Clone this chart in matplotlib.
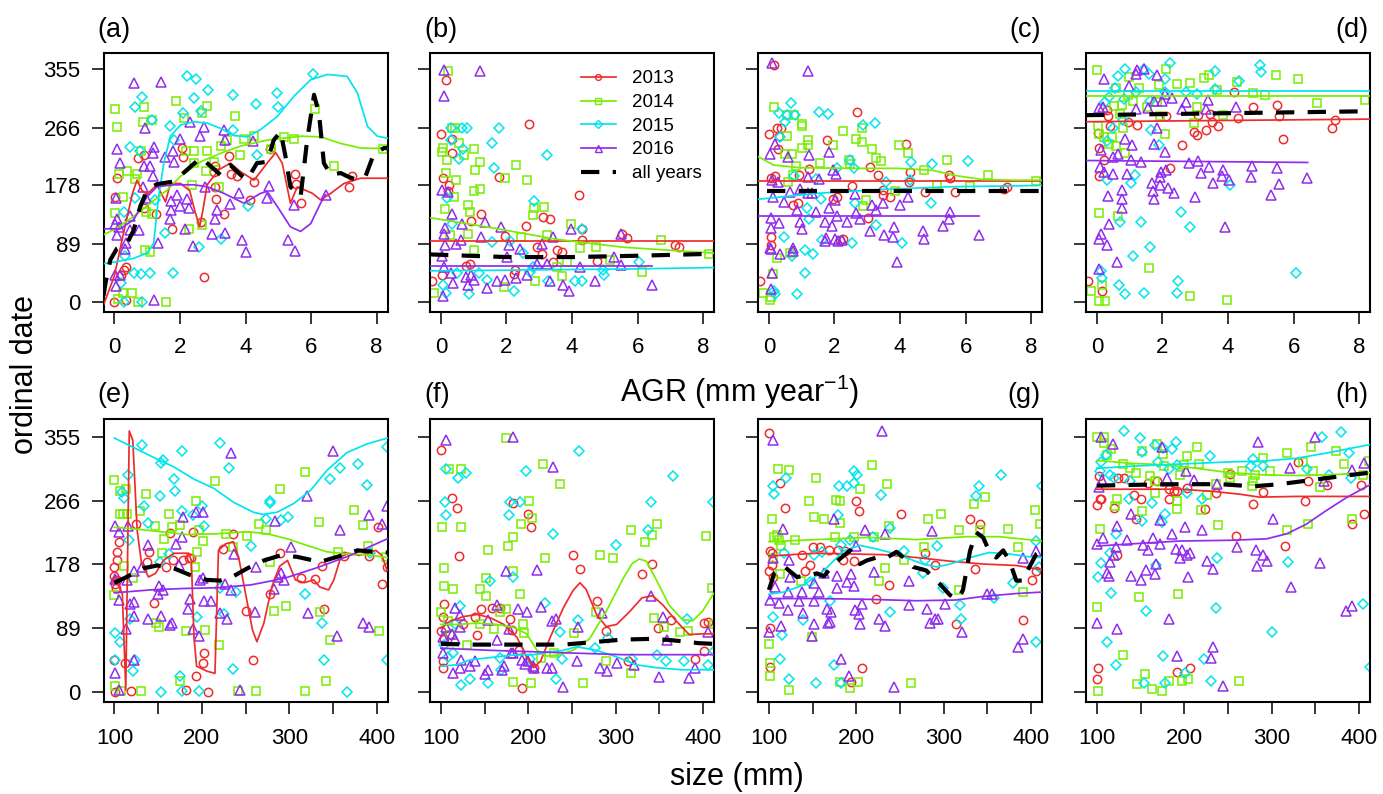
import matplotlib
matplotlib.use('Agg')
import matplotlib.pyplot as plt
from matplotlib.lines import Line2D

plt.rcParams['font.family'] = ['Liberation Sans', 'DejaVu Sans']
plt.rcParams['mathtext.fontset'] = 'custom'
plt.rcParams['mathtext.rm'] = 'Liberation Sans'
plt.rcParams['mathtext.it'] = 'Liberation Sans'

YEARS = ['2013', '2014', '2015', '2016']
COLORS = ['#EE2C2C', '#76EE00', '#00E5EE', '#912CEE']
MARKERS = ['o', 's', 'D', '^']
MSIZES = [6.0, 5.3, 5.2, 7.2]
YTICKS = [0, 89, 178, 266, 355]
XTICKS_AGR = [0, 2, 4, 6, 8]
XTICKS_SIZE = [100, 150, 200, 250, 300, 350, 400]
XLABELS_SIZE = ['100', '', '200', '', '300', '', '400']
PANEL_LABELS = ['(a)', '(b)', '(c)', '(d)', '(e)', '(f)', '(g)', '(h)']

# ---------------- panel (a): AGR, top-left ----------------
A13 = [(0.0,0),(0.37,4),(0.08,190),(0.03,161),(0.71,220),(0.9,224),(0.28,49),(0.36,54),(0.21,42),(1.28,134),(0.9,144),(2.09,222),(1.76,112),(2.06,235),(2.73,38),(2.63,122),(3.06,207),(3.04,199),(3.11,157),(3.34,134),(3.49,223),(3.56,196),(3.73,192),(4.27,183),(4.15,156),(4.76,233),(5.5,196),(5.53,180),(5.68,151),(7.16,175),(7.26,193),(3.08,175)]
A14 = [(0.01,295),(0.07,267),(0.03,136),(0.15,196),(0.26,160),(0.39,200),(0.64,188),(0.69,196),(0.8,231),(0.92,297),(0.88,275),(0.93,80),(1.08,76),(1.15,277),(1.15,134),(0.96,138),(1.88,306),(2.11,280),(2.19,230),(2.29,111),(2.42,212),(2.44,231),(2.66,118),(2.68,289),(2.84,299),(2.84,230),(2.8,200),(3.24,238),(3.44,247),(3.69,284),(3.83,224),(3.95,248),(4.25,254),(4.78,234),(5.16,252),(5.48,248),(6.13,294),(6.7,208),(8.2,234),(1.57,1),(0.71,1),(0.55,15),(0.11,5),(0.27,14),(3.03,214),(3.18,175),(2.38,179)]
A15 = [(2.22,344),(2.49,340),(2.85,324),(2.42,311),(0.84,312),(0.62,298),(2.1,289),(3.61,316),(4.33,302),(4.95,319),(4.99,297),(6.07,347),(1.69,269),(0.47,236),(0.79,231),(1.16,277),(3.61,263),(4.34,225),(4.07,146),(2.58,85),(3.24,96),(1.54,105),(1.78,44),(1.1,44),(0.8,43),(0.59,44),(0.21,29),(0.31,0),(0.84,0),(0.34,70),(0.31,138),(0.64,159),(1.25,156),(2.63,291),(1.81,247)]
A16 = [(0.6,334),(1.42,335),(0.08,233),(0.16,212),(0.04,159),(0.95,265),(1.22,237),(1.18,227),(0.9,207),(1.1,207),(1.18,192),(0.86,176),(0.98,159),(0.08,127),(0.03,120),(0.13,115),(0.49,131),(0.49,110),(0.76,110),(0.36,90),(0.32,82),(0.08,103),(0.18,42),(0.03,42),(0.06,25),(1.2,4),(1.32,90),(1.55,222),(1.8,231),(1.81,214),(2.0,249),(1.72,154),(1.72,141),(1.91,163),(2.01,147),(2.22,158),(2.27,143),(2.3,274),(2.61,254),(2.73,267),(2.78,175),(3.08,127),(3.13,141),(2.98,104),(3.39,105),(3.34,263),(3.39,247),(3.52,150),(3.9,95),(4.03,77),(3.81,167),(4.24,246),(4.71,177),(4.66,159),(5.29,95),(5.51,78),(5.48,149),(6.44,164),(2.4,86),(2.15,112),(1.69,127)]
LA13 = [(-0.33,-4),(0.0,40),(0.3,110),(0.55,165),(0.69,186),(0.85,170),(1.0,165),(1.3,179),(1.56,153),(1.71,181),(2.02,181),(2.3,170),(2.45,140),(2.6,115),(2.7,140),(2.83,179),(3.19,202),(3.54,212),(3.85,199),(4.26,186),(4.66,212),(4.92,228),(5.12,212),(5.37,151),(5.58,176),(6.04,166),(6.29,156),(6.6,166),(7.0,181),(7.51,189),(8.33,189)]
LA14 = [(-0.33,103),(0.08,113),(0.59,131),(1.1,151),(1.61,171),(2.02,192),(2.63,214),(3.24,227),(3.85,238),(4.66,247),(5.68,253),(6.29,252),(6.9,242),(7.51,235),(8.33,234)]
LA15 = [(-0.33,59),(0.08,62),(0.59,67),(1.0,75),(1.2,90),(1.35,161),(1.51,212),(1.71,253),(2.02,270),(2.42,275),(2.83,273),(3.24,265),(3.64,254),(4.05,252),(4.46,263),(4.97,283),(5.48,314),(5.99,339),(6.5,347),(7.1,344),(7.41,319),(7.72,268),(8.02,253),(8.33,250)]
LA16 = [(-0.33,112),(0.18,112),(0.59,126),(1.0,161),(1.3,176),(1.81,179),(2.42,179),(2.83,176),(3.34,166),(3.95,151),(4.46,166),(4.66,169),(4.97,146),(5.37,115),(5.68,108),(5.99,120),(6.29,151),(6.44,164)]
LAALL = [(-0.33,10),(-0.27,29),(-0.12,65),(0.08,82),(0.39,90),(0.59,110),(0.79,146),(1.0,171),(1.3,180),(1.81,184),(2.22,202),(2.63,220),(2.83,212),(3.24,194),(3.54,209),(3.85,194),(4.05,187),(4.35,212),(4.66,214),(4.86,247),(5.07,260),(5.22,222),(5.37,176),(5.68,161),(5.88,247),(6.09,316),(6.24,288),(6.39,212),(6.6,194),(6.9,197),(7.1,192),(7.41,186),(7.66,192),(7.92,227),(8.23,235),(8.33,235)]

# ---------------- panel (b) ----------------
B13 = [(0.15,338),(0.02,257),(0.33,249),(0.33,228),(0.08,189),(0.26,178),(0.22,169),(0.91,124),(1.21,134),(1.77,191),(1.95,101),(2.7,271),(2.59,116),(3.11,130),(3.33,127),(2.93,85),(3.08,74),(3.53,79),(3.7,77),(3.43,62),(4.2,163),(4.29,112),(4.3,95),(4.76,63),(5.67,98),(5.52,104),(7.14,88),(7.26,84),(-0.28,33),(0.05,42),(0.76,56),(0.88,58),(2.22,43),(2.27,49)]
B14 = [(0.22,353),(0.35,265),(0.43,265),(0.06,235),(0.05,229),(0.2,217),(0.15,197),(0.47,187),(0.4,161),(0.13,142),(0.55,242),(0.71,224),(1.01,234),(1.18,214),(1.03,202),(1.19,173),(1.0,169),(0.84,148),(0.89,137),(0.83,104),(1.01,79),(0.28,103),(-0.2,14),(1.97,189),(2.28,209),(2.64,187),(2.8,133),(2.85,143),(3.15,145),(2.45,99),(3.23,102),(3.97,119),(4.24,83),(4.74,85),(3.86,61),(5.15,64),(6.14,47),(6.71,95),(8.17,73),(2.88,32),(3.68,40),(3.53,54),(1.92,24)]
B15 = [(0.3,265),(0.64,265),(0.81,265),(1.78,265),(0.3,247),(0.68,233),(0.56,219),(1.56,242),(3.23,225),(1.61,204),(0.18,159),(0.35,119),(2.85,154),(4.32,112),(2.1,94),(1.56,92),(2.52,75),(2.81,54),(6.05,62),(4.99,42),(4.94,50),(4.09,33),(4.32,33),(3.28,33),(0.5,44),(0.07,27),(0.86,12),(1.41,34),(2.22,17),(0.15,14),(1.16,44),(2.72,47)]
B16 = [(0.1,354),(1.19,352),(0.1,314),(0.03,171),(0.22,168),(0.33,134),(0.13,113),(0.1,104),(0.64,119),(1.21,100),(1.34,123),(1.82,114),(0.47,89),(0.61,95),(0.13,87),(0.05,70),(0.1,54),(0.08,10),(0.3,44),(0.37,30),(0.76,39),(0.91,42),(1.01,34),(0.83,27),(1.41,22),(1.7,32),(1.97,34),(2.07,87),(2.42,82),(2.02,69),(2.3,37),(2.62,42),(2.92,59),(3.1,89),(3.23,58),(3.41,100),(3.33,33),(3.73,27),(3.92,18),(3.98,111),(4.24,54),(4.71,32),(5.28,69),(5.5,57),(5.5,104),(6.43,26)]
LB13 = [(-0.33,93),(8.33,93)]
LB14 = [(-0.33,129),(1.51,114),(3.53,96),(5.55,84),(8.33,75)]
LB15 = [(-0.33,48),(2.0,49),(4.0,50),(6.0,51),(8.33,53)]
LB16 = [(-0.33,56),(6.43,56)]
LBALL = [(-0.33,73),(2.0,69),(4.0,69),(6.0,71),(8.33,74)]

# ---------------- panel (c) ----------------
C13 = [(0.15,361),(0.02,256),(0.25,265),(0.38,266),(0.31,253),(0.28,234),(2.69,290),(1.77,247),(4.17,241),(3.08,206),(3.33,194),(4.29,198),(4.27,183),(5.48,194),(5.53,189),(0.07,189),(0.2,193),(1.21,203),(0.91,194),(0.73,148),(0.88,152),(1.97,157),(2.09,161),(2.55,177),(3.03,129),(3.48,163),(3.68,161),(3.48,171),(4.76,168),(5.67,168),(7.16,172),(7.27,176),(0.07,99),(0.07,88),(-0.27,33),(2.17,95),(2.27,96)]
C14 = [(0.15,297),(0.56,285),(0.76,286),(1.01,271),(1.01,269),(0.54,253),(2.27,261),(1.97,240),(1.18,247),(1.18,240),(1.01,235),(2.65,248),(2.83,244),(2.85,266),(3.16,234),(3.26,220),(3.41,215),(3.96,240),(4.24,228),(0.5,226),(0.71,226),(1.56,212),(0.83,208),(2.44,216),(2.47,211),(4.72,202),(5.44,216),(6.69,194),(5.13,179),(6.12,177),(8.16,185),(2.86,146),(2.96,156),(3.86,170),(0.25,68),(0.13,43),(-0.17,14),(0.05,3),(0.07,8),(0.66,75),(0.74,194),(0.58,183)]
C15 = [(0.67,304),(0.3,289),(0.56,286),(0.79,286),(0.5,274),(0.35,252),(1.54,290),(1.79,287),(2.86,270),(3.23,273),(2.47,217),(2.59,205),(4.34,213),(4.99,210),(6.06,215),(4.29,187),(4.94,152),(2.09,204),(0.76,193),(1.43,188),(3.58,183),(1.16,143),(1.58,157),(1.21,127),(2.62,152),(3.28,118),(0.45,99),(0.71,70),(1.11,80),(1.36,74),(2.55,91),(1.61,95),(4.06,91),(1.09,45),(0.86,12),(0.15,18),(0.2,13)]
C16 = [(0.1,364),(1.19,353),(0.2,241),(0.05,226),(0.6,221),(1.21,224),(1.82,229),(0.1,186),(0.28,183),(0.13,161),(0.66,168),(0.96,173),(1.19,191),(1.19,166),(1.31,166),(1.54,188),(1.97,201),(2.05,196),(2.02,156),(1.82,144),(0.45,153),(0.86,141),(1.43,137),(0.07,129),(0.32,121),(0.07,113),(0.05,83),(0.35,74),(0.73,83),(0.74,78),(0.94,123),(1.01,111),(1.75,98),(1.71,93),(2.02,97),(2.22,95),(1.72,123),(1.92,116),(2.09,132),(2.37,123),(2.62,165),(2.67,136),(2.78,127),(3.08,109),(3.16,148),(3.28,141),(3.48,152),(3.51,103),(3.78,99),(3.83,114),(3.9,62),(4.01,148),(4.23,161),(4.69,109),(4.72,97),(5.3,116),(5.5,127),(5.52,137),(6.41,103),(0.07,82),(0.1,45),(0.07,20),(2.12,93)]
LC13 = [(-0.33,185),(8.33,185)]
LC14 = [(-0.33,222),(0.15,209),(0.96,205),(2.47,204),(3.99,204),(4.99,201),(5.7,193),(6.51,187),(7.52,186),(8.33,186)]
LC15 = [(-0.33,157),(1.46,166),(3.48,172),(5.5,176),(8.33,178)]
LC16 = [(-0.33,131),(6.41,131)]
LCALL = [(-0.05,170),(8.33,170)]

# ---------------- panel (d) ----------------
D13 = [(0.3,293),(0.34,283),(0.4,269),(0.04,258),(0.07,235),(0.07,192),(0.22,216),(1.23,270),(2.12,283),(2.6,240),(2.95,260),(3.05,255),(3.33,263),(3.1,285),(3.45,287),(3.51,274),(3.69,269),(4.19,320),(4.29,281),(4.77,297),(5.5,300),(5.56,283),(5.68,248),(7.16,265),(7.27,278),(2.24,204),(-0.28,33),(0.17,17),(0.95,274)]
D14 = [(0.02,354),(0.98,343),(2.11,355),(3.27,341),(3.43,346),(2.85,334),(4.26,336),(5.47,346),(6.14,340),(4.77,318),(5.14,316),(6.72,303),(8.17,308),(0.58,327),(1.28,326),(1.89,331),(2.44,332),(1.1,307),(0.78,301),(0.53,299),(0.96,315),(1.54,297),(1.84,305),(1.94,284),(3.05,298),(3.66,323),(3.86,285),(0.7,287),(0.81,265),(0.04,269),(0.07,257),(0.22,252),(0.47,252),(0.37,241),(0.57,238),(0.85,228),(2.97,273),(2.09,256),(0.07,136),(0.66,132),(1.59,53),(-0.18,18),(0.17,26),(0.07,2),(0.24,2),(2.83,10),(3.96,3)]
D15 = [(2.22,364),(4.97,362),(5.02,350),(0.85,355),(1.43,355),(0.65,344),(1.58,347),(3.61,353),(2.09,340),(4.34,337),(0.55,327),(0.83,310),(1.18,320),(1.62,306),(2.09,320),(2.73,320),(3.05,317),(3.61,325),(0.24,305),(0.37,312),(0.8,277),(0.48,265),(0.3,246),(1.64,262),(1.89,239),(1.15,194),(1.05,182),(0.3,186),(4.06,179),(2.57,137),(2.85,114),(0.7,123),(1.36,123),(1.61,84),(1.1,70),(2.47,33),(2.44,15),(1.43,14),(0.85,13),(0.68,26),(0.17,37),(6.08,45),(0.12,48)]
D16 = [(1.21,354),(1.43,355),(1.2,348),(0.22,340),(0.98,330),(1.82,346),(2.07,317),(2.29,311),(1.99,307),(1.74,307),(3.38,308),(2.73,305),(0.07,296),(0.2,298),(1.18,294),(1.56,296),(2.59,294),(3.33,294),(4.24,297),(1.82,265),(0.86,248),(1.08,239),(1.74,241),(2.09,229),(0.12,232),(0.65,226),(0.48,221),(0.1,206),(0.22,198),(0.48,196),(1.03,216),(1.36,213),(0.91,196),(1.97,198),(1.92,191),(2.12,201),(2.8,212),(3.1,215),(3.17,197),(3.43,206),(3.54,182),(3.84,201),(3.81,193),(4.04,187),(4.72,207),(4.7,191),(5.5,204),(5.55,180),(5.32,164),(6.42,189),(1.69,182),(1.71,170),(1.74,158),(1.94,178),(2.16,174),(2.34,166),(3.0,161),(0.76,171),(0.76,157),(0.78,144),(0.34,162),(0.37,119),(0.07,96),(0.12,104),(0.3,87),(0.61,62),(0.07,51),(3.91,114)]
LD13 = [(-0.33,275),(8.33,279)]
LD14 = [(-0.33,314),(8.33,314)]
LD15 = [(-0.33,322),(8.33,322)]
LD16 = [(-0.33,216),(6.43,213)]
LDALL = [(-0.33,285),(8.33,291)]

# ---------------- panel (e): size, bottom-left ----------------
E13 = [(101,0),(119,2),(207,0),(182,3),(193,22),(201,41),(203,54),(99,45),(112,40),(259,45),(100,174),(103,184),(103,195),(105,209),(99,161),(102,144),(103,156),(101,150),(125,234),(137,181),(140,195),(145,124),(159,174),(164,221),(167,183),(178,184),(185,187),(188,186),(190,223),(224,199),(236,220),(251,113),(278,136),(289,193),(314,159),(330,157),(337,175),(340,115),(363,189),(391,189),(401,229),(406,150),(412,174)]
E14 = [(100,295),(106,279),(113,283),(106,248),(110,248),(114,248),(129,252),(136,275),(146,231),(151,91),(148,96),(157,213),(154,193),(163,248),(166,229),(175,232),(193,266),(197,226),(195,195),(201,210),(192,174),(182,85),(204,86),(215,293),(220,66),(228,220),(236,202),(252,217),(265,233),(273,226),(278,181),(282,113),(289,283),(296,120),(318,306),(335,111),(334,237),(347,72),(356,195),(374,253),(384,232),(390,203),(403,85),(411,188),(100,135),(101,8),(108,1),(130,2),(175,15),(241,2),(262,2),(318,1),(342,16),(111,175),(121,158)]
E15 = [(131,344),(153,318),(155,323),(177,335),(221,346),(231,311),(168,296),(169,279),(116,302),(109,278),(111,270),(134,258),(152,272),(138,235),(177,252),(190,246),(200,259),(203,231),(117,212),(256,203),(162,192),(152,181),(278,266),(278,263),(273,240),(298,243),(290,239),(318,136),(221,144),(239,139),(225,108),(195,105),(118,101),(101,82),(106,69),(101,45),(124,45),(121,29),(175,23),(177,1),(197,1),(153,0),(236,32),(338,96),(340,45),(347,296),(358,311),(379,317),(389,288),(366,0),(412,340),(412,45),(392,193)]
E16 = [(101,231),(105,222),(116,231),(122,169),(138,205),(131,174),(114,156),(101,157),(105,128),(122,125),(118,122),(122,106),(138,102),(153,106),(151,147),(155,142),(150,136),(164,93),(166,96),(178,243),(177,215),(170,206),(174,176),(193,251),(201,250),(198,156),(201,158),(186,129),(184,115),(203,127),(211,127),(190,87),(197,78),(221,110),(229,101),(227,150),(233,142),(233,332),(237,192),(261,112),(262,174),(284,238),(283,143),(287,160),(290,165),(294,156),(302,202),(320,273),(322,110),(350,335),(355,78),(358,225),(384,96),(391,91),(391,246),(406,234),(101,26),(105,3),(122,44),(113,87),(244,3),(412,259)]
LE13 = [(100,160),(109,137),(113,3),(117,363),(121,350),(126,225),(131,179),(139,160),(147,165),(156,183),(168,193),(185,193),(188,183),(191,77),(194,36),(206,29),(215,26),(219,197),(227,206),(236,209),(242,188),(250,137),(258,86),(263,70),(271,96),(280,146),(289,175),(298,183),(307,156),(317,152),(328,156),(335,146),(345,142),(351,156),(359,188),(368,193),(380,190),(389,193),(399,197),(406,190),(412,169)]
LE14 = [(100,229),(122,227),(152,223),(183,219),(217,220),(252,223),(275,220),(298,213),(320,204),(343,195),(366,192),(389,191),(412,187)]
LE15 = [(100,353),(122,340),(145,326),(168,313),(191,296),(214,283),(236,264),(259,250),(270,247),(286,250),(305,262),(324,280),(343,308),(366,333),(389,345),(412,353)]
LE16 = [(100,138),(141,142),(179,144),(217,145),(256,149),(294,158),(332,173),(370,190),(412,213)]
LEALL = [(100,152),(114,160),(133,172),(149,176),(168,172),(186,163),(205,156),(221,155),(236,161),(252,172),(271,183),(290,190),(309,188),(335,181),(355,188),(378,197),(397,195),(412,194)]

# ---------------- panel (f) ----------------
F13 = [(100,337),(113,270),(118,256),(121,189),(103,123),(102,105),(100,85),(102,43),(102,34),(104,74),(110,81),(125,94),(139,104),(141,80),(146,116),(158,117),(168,117),(181,86),(179,102),(182,263),(200,247),(203,229),(189,58),(193,5),(206,34),(251,191),(259,171),(279,126),(289,85),(314,43),(330,164),(341,178),(348,89),(363,100),(391,46),(401,57),(405,97),(401,96)]
F14 = [(174,353),(217,317),(236,289),(109,310),(123,310),(101,230),(123,230),(104,173),(103,148),(114,143),(100,111),(108,99),(110,80),(154,197),(151,159),(145,143),(152,134),(177,203),(182,216),(192,234),(201,265),(204,242),(182,169),(175,116),(191,136),(194,94),(219,187),(282,190),(297,187),(318,225),(334,209),(341,218),(347,234),(403,217),(410,144),(277,111),(252,82),(289,43),(318,26),(344,103),(355,91),(373,84),(383,85),(412,94),(130,65),(145,94),(161,87),(182,14),(203,13),(262,12),(215,47),(229,54),(195,82),(168,112)]
F15 = [(106,310),(120,297),(129,304),(105,264),(106,246),(179,264),(190,264),(178,246),(197,308),(228,220),(258,335),(300,205),(340,264),(337,225),(365,301),(156,154),(183,160),(122,120),(219,124),(257,100),(291,75),(381,101),(116,94),(114,54),(123,10),(133,18),(154,12),(232,18),(238,46),(236,84),(202,46),(168,47),(169,31),(276,61),(319,46),(347,52),(357,43),(378,43),(405,37),(411,264),(412,57),(104,65),(108,49)]
F16 = [(106,350),(183,354),(228,313),(210,170),(175,168),(116,117),(122,107),(122,91),(106,90),(102,76),(113,81),(116,74),(102,55),(114,27),(123,45),(122,33),(139,43),(133,36),(150,25),(154,31),(164,121),(164,72),(154,100),(178,87),(182,54),(188,115),(198,111),(193,45),(196,39),(180,55),(170,31),(172,36),(215,118),(227,99),(232,101),(221,34),(227,33),(240,7),(257,91),(256,43),(284,110),(282,34),(290,29),(302,41),(321,38),(340,134),(350,21),(354,105),(359,72),(384,20),(391,33),(405,84),(205,36),(207,34),(200,43)]
LF13 = [(100,89),(111,99),(126,105),(142,108),(157,103),(172,94),(187,76),(198,49),(206,34),(214,43),(225,76),(240,117),(251,141),(259,152),(266,143),(278,108),(289,91),(301,94),(316,112),(330,131),(342,134),(354,121),(369,99),(384,80),(399,81),(412,81)]
LF14 = [(100,94),(119,94),(142,96),(164,94),(183,90),(198,81),(210,58),(221,50),(236,52),(251,58),(270,74),(289,112),(308,157),(319,179),(327,185),(335,182),(346,157),(361,121),(376,101),(388,99),(399,112),(412,137)]
LF15 = [(100,36),(119,38),(134,45),(149,47),(164,49),(187,52),(206,52),(225,56),(240,58),(255,63),(278,58),(301,49),(323,38),(346,34),(376,31),(412,31)]
LF16 = [(100,61),(157,58),(232,55),(308,52),(412,52)]
LFALL = [(100,67),(138,66),(195,66),(240,66),(270,69),(308,73),(342,74),(365,72),(395,68),(412,67)]

# ---------------- panel (g) ----------------
G13 = [(100,360),(113,290),(118,256),(200,266),(203,252),(251,247),(330,241),(341,234),(101,196),(103,194),(104,176),(100,169),(105,160),(138,190),(147,177),(141,169),(150,202),(159,201),(169,197),(179,197),(185,183),(187,196),(197,182),(237,149),(223,129),(278,193),(290,176),(336,171),(401,156),(406,169),(314,94),(391,100),(101,89),(101,35),(194,14),(207,34)]
G14 = [(110,310),(123,309),(154,297),(218,316),(235,289),(204,283),(146,265),(177,267),(181,265),(152,244),(163,240),(181,235),(104,241),(106,215),(109,218),(111,212),(105,187),(114,203),(130,211),(176,216),(197,215),(220,216),(237,231),(282,240),(297,248),(317,225),(341,226),(347,271),(335,261),(374,227),(385,202),(404,253),(410,233),(233,172),(226,154),(277,202),(254,183),(137,154),(391,139),(317,142),(149,77),(100,67),(101,41),(101,23),(123,3),(181,14),(193,6),(202,14),(262,13),(113,164)]
G15 = [(105,287),(106,276),(120,298),(180,287),(189,287),(197,308),(201,302),(197,291),(228,274),(179,246),(340,287),(337,273),(365,302),(412,287),(238,228),(219,216),(193,212),(183,204),(161,195),(152,191),(117,193),(292,203),(255,196),(279,183),(276,165),(299,144),(379,152),(409,174),(147,153),(170,126),(139,100),(105,105),(115,80),(238,112),(319,121),(320,102),(358,131),(405,70),(113,46),(123,18),(154,12),(175,38),(182,12),(406,210)]
G16 = [(105,351),(229,363),(116,227),(210,225),(233,220),(286,224),(200,203),(175,241),(105,187),(123,183),(124,160),(107,146),(122,139),(138,139),(152,152),(157,139),(163,165),(178,162),(194,164),(178,144),(197,148),(189,153),(220,167),(260,155),(101,128),(112,124),(122,114),(134,126),(139,110),(151,127),(166,115),(171,112),(170,97),(168,96),(151,94),(198,114),(203,108),(206,123),(204,94),(226,102),(233,92),(260,121),(281,115),(284,96),(290,101),(293,101),(302,122),(321,83),(349,136),(355,136),(391,186),(406,196),(391,74),(385,62),(114,92),(100,83),(149,78),(182,46),(192,23),(243,7)]
LG13 = [(100,189),(125,191),(155,193),(193,192),(231,191),(269,187),(307,182),(345,178),(383,176),(412,170)]
LG14 = [(100,209),(155,212),(212,215),(269,212),(326,216),(364,216),(412,210)]
LG15 = [(100,136),(117,139),(140,149),(163,169),(185,196),(204,204),(223,199),(242,193),(261,185),(276,178),(292,174),(307,178),(330,187),(352,194),(375,192),(398,188),(412,187)]
LG16 = [(100,130),(155,130),(212,129),(269,127),(314,128),(345,133),(383,137),(412,139)]
LGALL = [(100,142),(106,165),(117,175),(132,160),(144,162),(155,165),(163,161),(174,178),(183,187),(193,197),(204,178),(212,183),(223,187),(235,187),(246,195),(254,187),(265,174),(280,169),(295,151),(307,135),(316,129),(322,142),(330,196),(337,222),(345,215),(352,196),(360,187),(368,197),(375,183),(383,155),(391,155),(398,174),(406,192),(412,196)]

# ---------------- panel (h) ----------------
H13 = [(102,300),(104,269),(105,268),(100,260),(119,256),(124,298),(131,298),(142,274),(150,269),(145,240),(159,291),(169,294),(183,282),(188,280),(192,279),(182,268),(203,284),(236,277),(224,255),(252,303),(259,217),(278,262),(290,278),(330,320),(341,293),(338,265),(363,288),(315,203),(392,234),(402,288),(406,248),(123,191),(101,34),(100,18),(192,28),(207,34)]
H14 = [(100,355),(108,355),(108,346),(112,330),(116,338),(130,317),(138,311),(152,335),(169,345),(176,331),(203,328),(215,340),(217,317),(145,304),(161,300),(167,293),(195,302),(200,315),(177,314),(250,305),(266,308),(278,293),(290,326),(298,307),(317,332),(336,320),(345,340),(347,307),(355,285),(374,335),(383,317),(404,302),(411,321),(123,269),(121,259),(152,252),(167,277),(192,266),(192,255),(219,253),(226,274),(238,232),(236,289),(252,298),(277,287),(281,302),(392,240),(341,234),(317,226),(103,227),(100,118),(148,132),(193,137),(130,52),(155,25),(146,11),(163,4),(175,2),(183,16),(197,15),(204,18),(263,15),(101,1)]
H15 = [(131,363),(149,353),(167,343),(176,339),(186,338),(190,347),(152,334),(170,320),(183,310),(192,315),(229,328),(279,324),(290,314),(276,314),(358,355),(379,361),(388,332),(366,302),(340,310),(391,298),(105,320),(110,330),(104,307),(115,302),(119,298),(137,268),(138,293),(163,263),(178,247),(174,236),(152,238),(203,277),(220,268),(122,220),(115,194),(105,179),(101,160),(168,177),(237,186),(319,181),(116,138),(156,113),(112,70),(122,38),(176,50),(154,13),(178,13),(201,27),(222,46),(231,15),(236,117),(300,84),(404,122),(412,35)]
H16 = [(105,354),(118,345),(284,347),(350,354),(175,340),(321,311),(406,318),(392,309),(360,294),(106,295),(102,285),(180,298),(202,307),(211,295),(237,289),(139,248),(172,239),(201,229),(220,226),(302,241),(123,231),(107,214),(100,206),(134,211),(164,214),(172,206),(186,220),(153,205),(159,197),(122,202),(120,191),(190,199),(197,198),(195,187),(203,191),(207,194),(260,202),(282,197),(290,190),(294,182),(283,175),(226,182),(233,171),(115,181),(112,165),(114,161),(139,161),(150,156),(156,170),(166,164),(168,178),(204,160),(322,146),(355,180),(100,96),(123,87),(182,102),(192,50),(230,47),(233,62),(244,8),(385,113),(392,119)]
LH13 = [(100,282),(158,282),(195,282),(233,279),(264,275),(286,271),(328,272),(412,272)]
LH14 = [(100,322),(139,318),(177,316),(214,311),(252,305),(290,302),(328,301),(366,302),(412,305)]
LH15 = [(100,311),(139,314),(177,316),(214,318),(252,320),(290,321),(328,325),(366,333),(412,344)]
LH16 = [(100,203),(139,206),(195,210),(252,211),(294,213),(317,220),(339,233),(362,252),(385,270),(412,288)]
LHALL = [(100,287),(139,288),(195,289),(241,289),(279,286),(309,289),(347,295),(385,301),(412,305)]

PANEL_POINTS = [
    [A13, A14, A15, A16], [B13, B14, B15, B16], [C13, C14, C15, C16], [D13, D14, D15, D16],
    [E13, E14, E15, E16], [F13, F14, F15, F16], [G13, G14, G15, G16], [H13, H14, H15, H16],
]
PANEL_LINES = [
    [LA13, LA14, LA15, LA16], [LB13, LB14, LB15, LB16], [LC13, LC14, LC15, LC16], [LD13, LD14, LD15, LD16],
    [LE13, LE14, LE15, LE16], [LF13, LF14, LF15, LF16], [LG13, LG14, LG15, LG16], [LH13, LH14, LH15, LH16],
]
PANEL_ALL = [LAALL, LBALL, LCALL, LDALL, LEALL, LFALL, LGALL, LHALL]

# ---------------- layout ----------------
W, H = 1383, 794
fig = plt.figure(figsize=(W / 100, H / 100), dpi=100)
col_left = [103.5, 430, 758, 1086]
col_w = 284
rows = [(53.3, 311.7), (419.3, 702.3)]

DASH = (4.4, 3.2)

for i in range(8):
    r, c = divmod(i, 4)
    top, bot = rows[r]
    ax = fig.add_axes([col_left[c] / W, 1 - bot / H, col_w / W, (bot - top) / H])
    for k in range(4):
        pts = PANEL_POINTS[i][k]
        ax.plot([p[0] for p in pts], [p[1] for p in pts], linestyle='none',
                marker=MARKERS[k], ms=MSIZES[k], mfc='none', mec=COLORS[k],
                mew=1.1, zorder=2)
    for k in range(4):
        ln = PANEL_LINES[i][k]
        ax.plot([p[0] for p in ln], [p[1] for p in ln], color=COLORS[k], lw=1.25,
                solid_joinstyle='round', zorder=3)
    ln = PANEL_ALL[i]
    ax.plot([p[0] for p in ln], [p[1] for p in ln], color='black', lw=3.0,
            dashes=DASH, dash_capstyle='butt', zorder=4)

    ax.set_ylim(-14.2, 379.2)
    if r == 0:
        ax.set_xlim(-0.33, 8.33)
        ax.set_xticks(XTICKS_AGR)
        ax.set_xticklabels([str(t) for t in XTICKS_AGR])
    else:
        ax.set_xlim(87.5, 412.4)
        ax.set_xticks(XTICKS_SIZE)
        ax.set_xticklabels(XLABELS_SIZE)
    ax.set_yticks(YTICKS)
    if c == 0:
        ax.set_yticklabels([str(t) for t in YTICKS])
    else:
        ax.set_yticklabels([])
    ax.tick_params(axis='both', direction='out', length=8.5, width=1.1, labelsize=16,
                   color='black')
    ax.tick_params(axis='x', pad=10)
    ax.tick_params(axis='y', pad=8)
    for s in ax.spines.values():
        s.set_linewidth(1.5)
        s.set_color('black')

    if c in (0, 1):
        ax.text(-0.02, 1.04, PANEL_LABELS[i], transform=ax.transAxes,
                ha='left', va='bottom', fontsize=19.5)
    else:
        ax.text(0.995, 1.04, PANEL_LABELS[i], transform=ax.transAxes,
                ha='right', va='bottom', fontsize=19.5)

    if i == 1:
        handles = []
        for k in range(4):
            handles.append(Line2D([], [], color=COLORS[k], lw=1.25, marker=MARKERS[k],
                                  ms=MSIZES[k] * 0.7, mfc='none', mec=COLORS[k], mew=1.0))
        handles.append(Line2D([], [], color='black', lw=3.0, dashes=DASH, dash_capstyle='butt'))
        ax.legend(handles, YEARS + ['all years'], loc='upper left',
                  bbox_to_anchor=(0.485, 0.985), frameon=False, fontsize=13.5,
                  handlelength=1.85, handletextpad=0.9, labelspacing=0.35,
                  borderaxespad=0.3)

fig.text(25 / W, 1 - 375 / H, 'ordinal date', rotation=90, ha='center', va='center',
         fontsize=22)
fig.text(740 / W, 1 - 402 / H, 'AGR (mm year$^{\\mathregular{-1}}$)', ha='center',
         va='baseline', fontsize=22)
fig.text(737 / W, 1 - 785 / H, 'size (mm)', ha='center', va='baseline', fontsize=22)

fig.savefig('out.png', dpi=100)
